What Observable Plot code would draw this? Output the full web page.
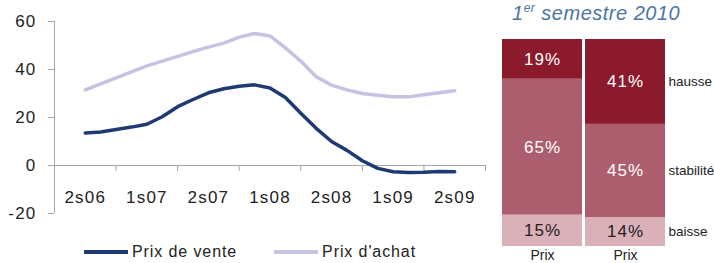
<!DOCTYPE html>
<html><head><meta charset="utf-8">
<script src="https://cdn.jsdelivr.net/npm/d3@7"></script>
<script src="https://cdn.jsdelivr.net/npm/@observablehq/plot@0.6"></script>
<style>
body{margin:0;background:#fff;}
#wrap{position:relative;width:714px;height:263px;overflow:hidden;font-family:"Liberation Sans",Arial,sans-serif;}
#left{position:absolute;left:0;top:0;}
#right{position:absolute;left:490px;top:0;}
#title{position:absolute;left:512px;top:2px;font-style:italic;font-size:20px;letter-spacing:0.5px;color:#4a75a5;white-space:nowrap;}
#title sup{font-size:12px;vertical-align:top;position:relative;top:-1px;}
#legend{position:absolute;left:84px;top:243px;display:flex;align-items:center;font-family:"Liberation Sans",Arial,sans-serif;font-size:16px;letter-spacing:0.9px;color:#222;white-space:nowrap;}
.sw{width:44px;height:4px;margin-right:4px;}
.item{display:flex;align-items:center;}
</style></head>
<body>
<div id="wrap">
  <div id="left"></div>
  <div id="right"></div>
  <div id="title"></div>
  <div id="legend"></div>
</div>
<script>
// ---- data ----
const periodLabels = ["2s06","1s07","2s07","1s08","2s08","1s09","2s09"];
const prixDeVente = [13.5,14,15,16,17.2,20.3,24.5,27.5,30.3,32,33,33.6,32.3,28.3,21.8,15.5,10,6.3,2,-1.2,-2.6,-2.9,-2.8,-2.5,-2.6];
const prixAchat = [31.5,34,36.5,39,41.5,43.5,45.5,47.5,49.3,51,53.5,55,54,49,43.5,37,33.5,31.5,30,29.3,28.6,28.6,29.5,30.3,31.1];
const seriesNames = ["Prix de vente","Prix d'achat"];
const yTicks = [-20,0,20,40,60];

const titleMain = "1";
const titleSup = "er";
const titleRest = " semestre 2010";
const barLabels = ["Prix","Prix"];
const trendCategories = ["baisse","stabilité","hausse"];
const bar1Values = [15,65,19];
const bar2Values = [14,45,41];

// ---- styles ----
const font = '"Liberation Sans",Arial,sans-serif';
const axisGray = "#a6a6a6";
const venteColor = "#1f3a73";
const achatColor = "#c5c3e4";
const barColors = ["#dbb1b9","#ad5e6e","#8c1a2d"];

// ---- left chart ----
const perSemester = 4;
const rows = prixDeVente.map((v,i)=>({i, vente:v, achat:prixAchat[i]}));
const semesterTicks = d3.range(periodLabels.length+1).map(j => j*perSemester - perSemester/2);
const labelRows = periodLabels.map((label,j)=>({label, i:j*perSemester}));
const xMin = -perSemester/2, xMax = (periodLabels.length-1)*perSemester + perSemester/2;

const left = Plot.plot({
  width: 490, height: 225,
  marginLeft: 54, marginRight: 5, marginTop: 21, marginBottom: 12,
  x: {domain:[xMin,xMax], axis:null},
  y: {domain:[-20,60], axis:null},
  style: {fontFamily: font, letterSpacing: "1.2px", background: "transparent", color:"#222"},
  marks: [
    Plot.axisY({ticks: yTicks, tickSize: 6, tickPadding: 12, tickFormat: d => String(d), stroke: axisGray, fill: "#222", fontSize: 17, label: null}),
    Plot.ruleX([xMin], {y1:-20, y2:60, stroke: axisGray}),
    Plot.ruleY([0], {x1:xMin, x2:xMax, stroke: axisGray}),
    Plot.ruleX(semesterTicks, {y1:0, y2:-2.5, stroke: axisGray}),
    Plot.text(labelRows, {x:"i", y:0, text:"label", dy:32, fontSize:17, fill:"#222"}),
    Plot.line(rows, {x:"i", y:"achat", stroke: achatColor, strokeWidth: 3.5}),
    Plot.line(rows, {x:"i", y:"vente", stroke: venteColor, strokeWidth: 3.5})
  ]
});
document.getElementById("left").append(left);

// legend
const legend = document.getElementById("legend");
[[seriesNames[0], venteColor],[seriesNames[1], achatColor]].forEach(([name,col],k)=>{
  const it = document.createElement("div");
  it.className = "item";
  if (k>0) it.style.marginLeft = "37px";
  const sw = document.createElement("div");
  sw.className = "sw"; sw.style.background = col;
  const t = document.createElement("span"); t.textContent = name;
  it.append(sw, t); legend.append(it);
});

// title
const title = document.getElementById("title");
title.append(titleMain);
const sup = document.createElement("sup"); sup.textContent = titleSup; title.append(sup);
title.append(titleRest);

// ---- right chart ----
const barRows = [];
[bar1Values, bar2Values].forEach((vals,b)=>{
  vals.forEach((v,c)=>barRows.push({bar:b, cat:trendCategories[c], value:v}));
});
const stackOpts = {x:"bar", y:"value", z:"cat", offset:"normalize", order: trendCategories};

const right = Plot.plot({
  width: 224, height: 263,
  marginLeft: 12, marginRight: 49, marginTop: 39, marginBottom: 17,
  x: {domain:[0,1], paddingInner:0.04, paddingOuter:0, tickFormat: i => barLabels[i], tickSize:0, tickPadding:4, label:null, fontSize:14},
  y: {axis:null},
  color: {domain: trendCategories, range: barColors},
  style: {fontFamily: font, fontSize:"14px", background:"transparent", color:"#222"},
  marks: [
    Plot.barY(barRows, Plot.stackY({...stackOpts, fill:"cat"})),
    Plot.text(barRows, Plot.stackY({...stackOpts, text: d => d.value + "%", fill: d => d.cat === trendCategories[0] ? "#222" : "#ffffff", fontSize: 17})),
    Plot.text(barRows.filter(d => d.bar === 1), Plot.stackY({...stackOpts, text:"cat", dx: 43, textAnchor:"start", fill:"#222", fontSize:13.5}))
  ]
});
d3.select(right).selectAll('g[aria-label="text"]').filter((d,i)=>i===0).attr("letter-spacing","1px");
document.getElementById("right").append(right);
</script>
</body></html>
